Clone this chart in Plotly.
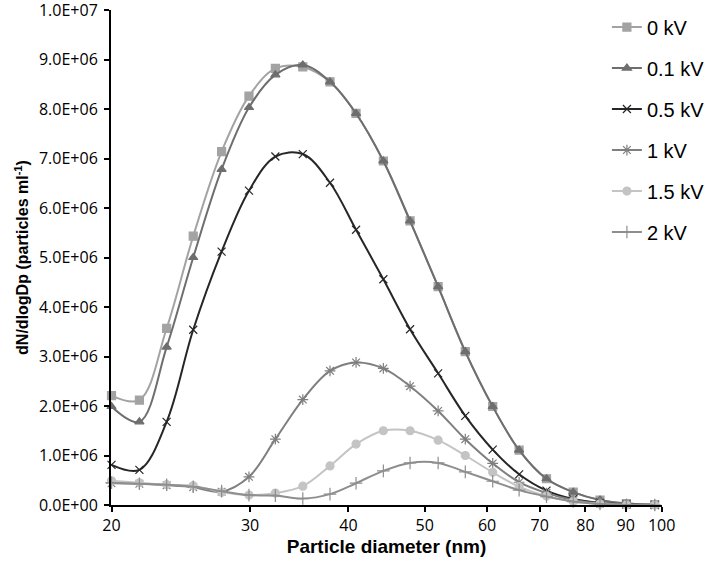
import math
import plotly.graph_objects as go

diameter_nm = [20.0, 21.7, 23.5, 25.4, 27.6, 29.9, 32.3, 35.0, 37.9, 40.9, 44.3,
               47.9, 52.0, 56.3, 61.0, 65.9, 71.4, 77.2, 83.5, 90.2, 98.0]

kv_0 = [2.21e6, 2.12e6, 3.57e6, 5.43e6, 7.14e6, 8.26e6, 8.82e6, 8.85e6, 8.55e6, 7.91e6, 6.95e6,
        5.74e6, 4.41e6, 3.10e6, 1.99e6, 1.11e6, 0.53e6, 0.26e6, 0.10e6, 0.03e6, 0.01e6]
kv_01 = [1.99e6, 1.68e6, 3.19e6, 5.00e6, 6.78e6, 8.03e6, 8.69e6, 8.89e6, 8.55e6, 7.91e6, 6.95e6,
         5.74e6, 4.41e6, 3.10e6, 1.99e6, 1.11e6, 0.53e6, 0.26e6, 0.10e6, 0.03e6, 0.01e6]
kv_05 = [0.81e6, 0.71e6, 1.68e6, 3.54e6, 5.12e6, 6.35e6, 7.04e6, 7.09e6, 6.51e6, 5.56e6, 4.56e6,
         3.55e6, 2.66e6, 1.80e6, 1.12e6, 0.62e6, 0.29e6, 0.12e6, 0.04e6, 0.01e6, 0.00e6]
kv_1 = [0.44e6, 0.43e6, 0.40e6, 0.36e6, 0.27e6, 0.57e6, 1.33e6, 2.13e6, 2.71e6, 2.88e6, 2.76e6,
        2.40e6, 1.90e6, 1.33e6, 0.84e6, 0.46e6, 0.24e6, 0.10e6, 0.03e6, 0.01e6, 0.00e6]
kv_15 = [0.49e6, 0.45e6, 0.41e6, 0.39e6, 0.26e6, 0.20e6, 0.24e6, 0.38e6, 0.79e6, 1.23e6, 1.50e6,
         1.50e6, 1.31e6, 1.00e6, 0.66e6, 0.37e6, 0.18e6, 0.07e6, 0.02e6, 0.00e6, 0.00e6]
kv_2 = [0.45e6, 0.43e6, 0.41e6, 0.37e6, 0.28e6, 0.20e6, 0.19e6, 0.13e6, 0.22e6, 0.44e6, 0.69e6,
        0.85e6, 0.85e6, 0.67e6, 0.48e6, 0.30e6, 0.17e6, 0.07e6, 0.02e6, 0.00e6, 0.00e6]

series_names = ["0 kV", "0.1 kV", "0.5 kV", "1 kV", "1.5 kV", "2 kV"]
series_values = [kv_0, kv_01, kv_05, kv_1, kv_15, kv_2]
colors = ["#a3a3a3", "#6e6e6e", "#262626", "#7f7f7f", "#c4c4c4", "#8e8e8e"]
symbols = ["square", "triangle-up", "x-thin", "asterisk", "circle", "cross-thin"]
sizes = [8, 8, 8, 9, 8, 9]

x_tick_vals = [20, 30, 40, 50, 60, 70, 80, 90, 100]
y_tick_vals = [0, 1e6, 2e6, 3e6, 4e6, 5e6, 6e6, 7e6, 8e6, 9e6, 1e7]
y_tick_text = ["0.0E+00", "1.0E+06", "2.0E+06", "3.0E+06", "4.0E+06", "5.0E+06",
               "6.0E+06", "7.0E+06", "8.0E+06", "9.0E+06", "1.0E+07"]

fig = go.Figure()
for name, vals, col, sym, sz in zip(series_names, series_values, colors, symbols, sizes):
    fig.add_trace(go.Scatter(
        x=diameter_nm, y=vals, name=name, legendgroup=name,
        mode="lines+markers",
        line=dict(color=col, width=2, shape="spline", smoothing=1.0),
        marker=dict(symbol=sym, size=sz, color=col, line=dict(color=col, width=1.2)),
        cliponaxis=False,
    ))

fig.update_layout(
    width=709, height=562,
    margin=dict(l=111, r=47, t=10, b=57, autoexpand=False),
    paper_bgcolor="white", plot_bgcolor="white",
    font=dict(family="Liberation Sans, Arial, sans-serif", color="black"),
    showlegend=True,
    legend=dict(x=0.900, y=1.005, xanchor="left", yanchor="top",
                font=dict(size=20, family="Liberation Sans, Arial, sans-serif"),
                traceorder="grouped", tracegroupgap=12,
                bgcolor="rgba(0,0,0,0)", itemwidth=30),
    xaxis=dict(
        type="log", range=[math.log10(19.97), math.log10(100.1)],
        tickvals=x_tick_vals, ticktext=[str(v) for v in x_tick_vals],
        ticks="outside", ticklen=5, tickwidth=1.5, tickcolor="black",
        showline=True, linecolor="black", linewidth=2,
        showgrid=False, zeroline=False, automargin=False,
        ticklabeloverflow="allow",
        tickfont=dict(size=16, family="Open Sans, sans-serif"),
        title=dict(text="<b>Particle diameter (nm)</b>", font=dict(size=19), standoff=0),
    ),
    yaxis=dict(
        range=[0, 1.00001e7],
        tickvals=y_tick_vals, ticktext=y_tick_text,
        ticks="outside", ticklen=5, tickwidth=1.5, tickcolor="black",
        showline=True, linecolor="black", linewidth=2,
        showgrid=False, zeroline=False, automargin=False,
        ticklabeloverflow="allow", ticklabelstandoff=3,
        tickfont=dict(size=16, family="Open Sans, sans-serif"),
        title=dict(text="<b>dN/dlogDp (particles ml<sup>-1</sup>)</b>", font=dict(size=16), standoff=6),
    ),
)

fig.write_html("out.html", config={"displayModeBar": False},
               post_script="document.body.style.margin='0px';")
